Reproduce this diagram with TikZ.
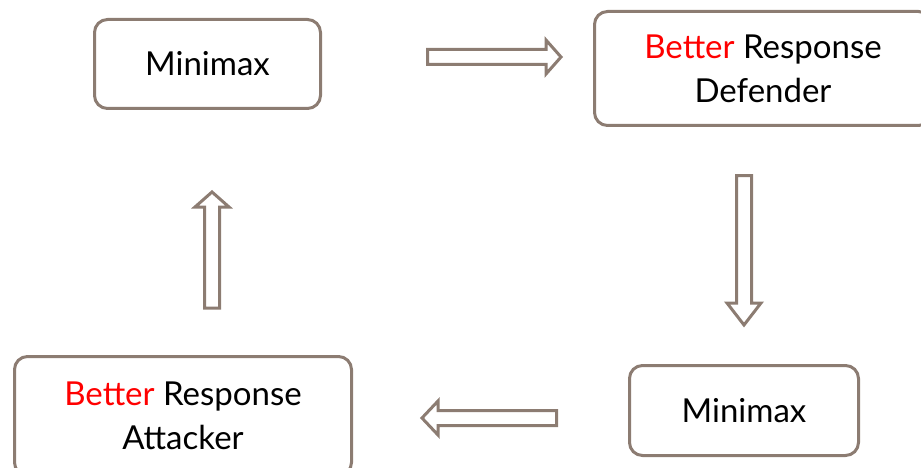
\documentclass[tikz,border=0pt]{standalone}
\usepackage{fontspec}
\setmainfont{Lato}
\usetikzlibrary{calc}
\definecolor{frame}{RGB}{140,124,114}
\definecolor{hot}{RGB}{255,0,0}
\tikzset{
  box/.style={draw=frame, line width=3pt, rounded corners=13pt, fill=white,
    align=center, inner sep=0pt, font=\fontsize{33}{44}\selectfont},
  blockarrow/.style={draw=frame, line width=3pt, fill=white, line join=miter},
}
% hollow block arrow from #1 to #2, head length #3
\newcommand\blockarrow[3]{%
  \path coordinate (ba-h) at ($(#2)!#3!(#1)$);
  \draw[blockarrow]
    ($(#1)!7.5pt!90:(#2)$) -- ($(ba-h)!7.5pt!90:(#2)$) -- ($(ba-h)!17pt!90:(#2)$)
    -- (#2) -- ($(ba-h)!17pt!-90:(#2)$) -- ($(ba-h)!7.5pt!-90:(#2)$)
    -- ($(#1)!7.5pt!-90:(#2)$) -- cycle;
}
\begin{document}
\begin{tikzpicture}[x=1pt,y=-1pt]
  \useasboundingbox (0,0) rectangle (921,468);
  \clip (0,0) rectangle (921,468);

  \node[box, minimum width=226pt, minimum height=89pt] (mmA) at (207.5,64) {Minimax};
  \node[box, minimum width=337pt, minimum height=114pt] (brD) at (763,68.5)
    {\textcolor{hot}{Better} Response\\Defender};
  \node[box, minimum width=229pt, minimum height=90pt] (mmB) at (744,410.5) {Minimax};
  \node[box, minimum width=337pt, minimum height=119pt] (brA) at (183,416)
    {\textcolor{hot}{Better} Response\\Attacker};

  % cycle arrows between the boxes
  \coordinate (a1s) at (427.5,57);  \coordinate (a1e) at (561,57);
  \coordinate (a2s) at (744,175.5); \coordinate (a2e) at (744,325);
  \coordinate (a3s) at (556.5,418); \coordinate (a3e) at (422,418);
  \coordinate (a4s) at (212,308);   \coordinate (a4e) at (212,192);

  \blockarrow{a1s}{a1e}{15pt}
  \blockarrow{a2s}{a2e}{22pt}
  \blockarrow{a3s}{a3e}{16pt}
  \blockarrow{a4s}{a4e}{15pt}
\end{tikzpicture}
\end{document}
